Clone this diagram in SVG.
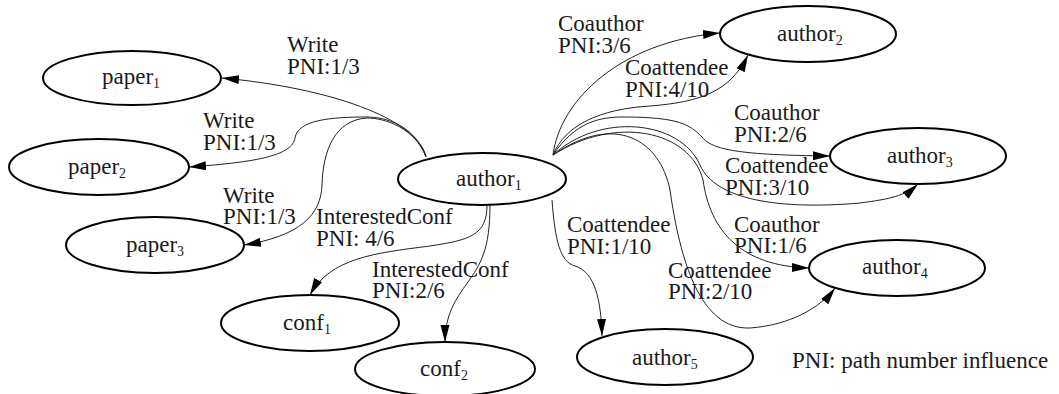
<svg xmlns="http://www.w3.org/2000/svg" width="1059" height="394" viewBox="0 0 1059 394">
<style>
.node ellipse{fill:#fff;stroke:#000;stroke-width:2}
.edge{fill:none;stroke:#222;stroke-width:1}
</style>
<defs>
<marker id="arr" markerUnits="userSpaceOnUse" markerWidth="18" markerHeight="10" refX="17" refY="4.5" orient="auto">
<path d="M0,0 L17,4.5 L0,9 z" fill="#000"/>
</marker>
</defs>
<rect width="1059" height="394" fill="#fff"/>
<g id="connectors">
<path class="edge" marker-end="url(#arr)" d="M426,156 C415,118 330,88 222,78"/>
<path class="edge" marker-end="url(#arr)" d="M426,157 C415,125 385,117 367,117 C330,117 298,120 295,138 C292,155 260,162 189,167"/>
<path class="edge" marker-end="url(#arr)" d="M426,157 C415,128 385,118 367,118 C335,120 323,150 322,185 C321,215 300,236 244,245"/>
<path class="edge" marker-end="url(#arr)" d="M487,205 C487,235 470,240 430,246 C375,253 330,258 310,295"/>
<path class="edge" marker-end="url(#arr)" d="M490,205 C490,250 480,265 468,282 C455,300 445,315 445,342"/>
<path class="edge" marker-end="url(#arr)" d="M553,155 C560,100 620,42 720,33"/>
<path class="edge" marker-end="url(#arr)" d="M553,155 C565,125 600,109 650,106 C700,102 730,92 748,55"/>
<path class="edge" marker-end="url(#arr)" d="M553,155 C575,122 600,117 623,117 C680,117 690,125 702,137 C712,150 740,155 830,156"/>
<path class="edge" marker-end="url(#arr)" d="M553,155 C600,112 680,120 700,165 C715,200 780,210 860,203 C890,199 905,196 918,184"/>
<path class="edge" marker-end="url(#arr)" d="M553,155 C615,115 690,130 703,180 C710,230 740,266 809,268"/>
<path class="edge" marker-end="url(#arr)" d="M553,155 C615,112 660,140 670,190 C680,260 700,330 750,328 C790,325 820,308 835,288"/>
<path class="edge" marker-end="url(#arr)" d="M552,200 C555,240 560,262 575,266 C595,272 601,300 602,336"/>
</g>
<g id="edge-labels" font-family="'Liberation Serif', 'Times New Roman', serif" font-size="23" fill="#1a1a1a">
<text><tspan x="287" y="52">Write</tspan><tspan x="287" y="74">PNI:1/3</tspan></text>
<text><tspan x="203" y="128">Write</tspan><tspan x="203" y="150">PNI:1/3</tspan></text>
<text><tspan x="223" y="203">Write</tspan><tspan x="223" y="224">PNI:1/3</tspan></text>
<text><tspan x="316" y="224">InterestedConf</tspan><tspan x="316" y="246">PNI: 4/6</tspan></text>
<text><tspan x="372" y="277">InterestedConf</tspan><tspan x="372" y="298">PNI:2/6</tspan></text>
<text><tspan x="558" y="31">Coauthor</tspan><tspan x="558" y="53">PNI:3/6</tspan></text>
<text><tspan x="625" y="75">Coattendee</tspan><tspan x="625" y="97">PNI:4/10</tspan></text>
<text><tspan x="734" y="120">Coauthor</tspan><tspan x="734" y="142">PNI:2/6</tspan></text>
<text><tspan x="725" y="173">Coattendee</tspan><tspan x="725" y="195">PNI:3/10</tspan></text>
<text><tspan x="567" y="232">Coattendee</tspan><tspan x="567" y="254">PNI:1/10</tspan></text>
<text><tspan x="734" y="232">Coauthor</tspan><tspan x="734" y="253">PNI:1/6</tspan></text>
<text><tspan x="668" y="278">Coattendee</tspan><tspan x="668" y="299">PNI:2/10</tspan></text>
<text x="792" y="368">PNI: path number influence</text>
</g>
<g font-family="'Liberation Serif', 'Times New Roman', serif" font-size="23" fill="#1a1a1a">
<g id="paper1" class="node"><ellipse cx="132" cy="78" rx="89" ry="27"/><text x="102" y="84">paper<tspan font-size="14" dy="4">1</tspan></text></g>
<g id="paper2" class="node"><ellipse cx="99" cy="167" rx="90" ry="28"/><text x="68" y="174">paper<tspan font-size="14" dy="4">2</tspan></text></g>
<g id="paper3" class="node"><ellipse cx="155" cy="245" rx="89" ry="28"/><text x="126" y="252">paper<tspan font-size="14" dy="4">3</tspan></text></g>
<g id="conf1" class="node"><ellipse cx="310" cy="323" rx="89" ry="28"/><text x="283" y="330">conf<tspan font-size="14" dy="4">1</tspan></text></g>
<g id="conf2" class="node"><ellipse cx="445" cy="369" rx="90" ry="27"/><text x="420" y="376">conf<tspan font-size="14" dy="4">2</tspan></text></g>
<g id="author1" class="node"><ellipse cx="482" cy="179" rx="84" ry="26"/><text x="456" y="186">author<tspan font-size="14" dy="4">1</tspan></text></g>
<g id="author2" class="node"><ellipse cx="808" cy="34" rx="88" ry="28"/><text x="777" y="41">author<tspan font-size="14" dy="4">2</tspan></text></g>
<g id="author3" class="node"><ellipse cx="918" cy="156" rx="88" ry="28"/><text x="887" y="163">author<tspan font-size="14" dy="4">3</tspan></text></g>
<g id="author4" class="node"><ellipse cx="897" cy="268" rx="88" ry="28"/><text x="862" y="274">author<tspan font-size="14" dy="4">4</tspan></text></g>
<g id="author5" class="node"><ellipse cx="665" cy="357" rx="88" ry="28"/><text x="632" y="365">author<tspan font-size="14" dy="4">5</tspan></text></g>
</g>
</svg>
